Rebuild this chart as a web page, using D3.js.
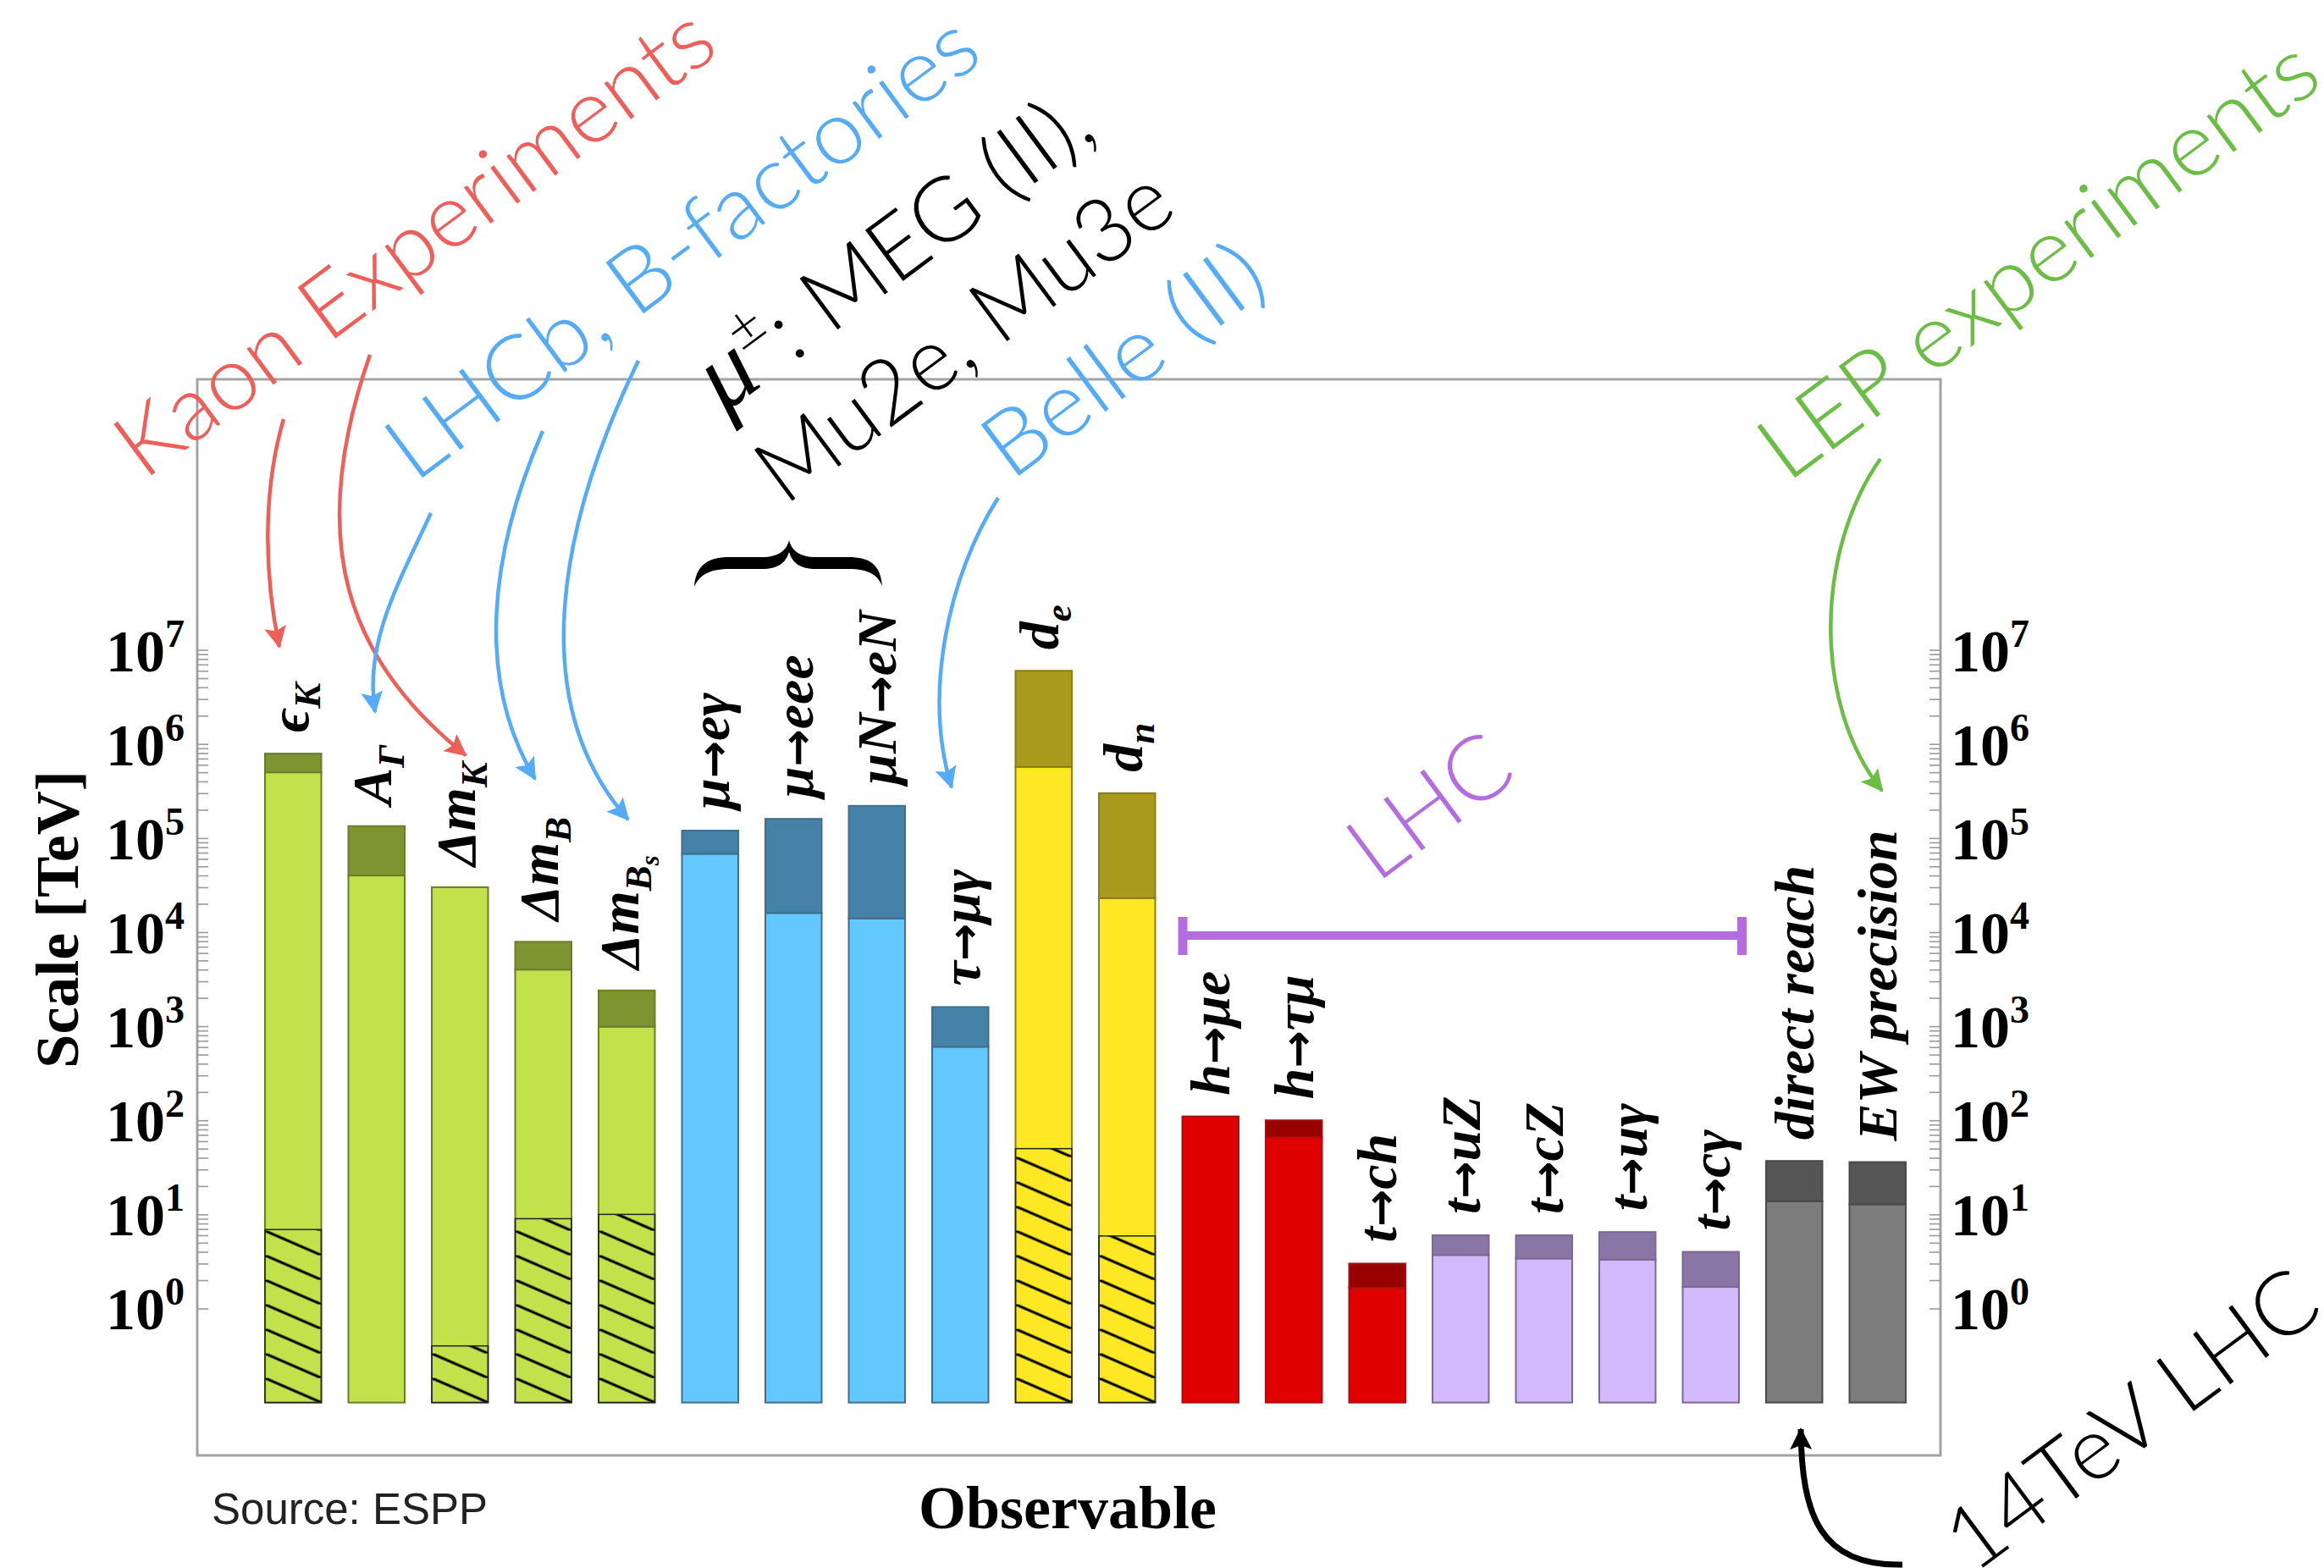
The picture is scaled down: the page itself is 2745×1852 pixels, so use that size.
<!DOCTYPE html>
<html>
<head>
<meta charset="utf-8">
<script src="https://cdn.jsdelivr.net/npm/d3@7"></script>
<style>
  body { margin: 0; background: #fff; }
  svg { display: block; }
</style>
</head>
<body>
<svg id="chart" width="2745" height="1852"></svg>
<script>
// observables ("_" starts a subscript)
var observables = ["ϵ_K", "A_Γ", "Δm_K", "Δm_B", "Δm_B_s", "μ→eγ", "μ→eee", "μN→eN", "τ→μγ",
  "d_e", "d_n", "h→μe", "h→τμ", "t→ch", "t→uZ", "t→cZ", "t→uγ", "t→cγ", "direct reach", "EW precision"];
var groups = ["flavour", "flavour", "flavour", "flavour", "flavour", "lepton", "lepton", "lepton", "lepton",
  "edm", "edm", "higgs", "higgs", "higgs", "top", "top", "top", "top", "ew", "ew"];
// present bound in TeV (light part)
var present = [5.0e5, 4.0e4, 3.0e4, 4.0e3, 990, 6.8e4, 1.6e4, 1.4e4, 605,
  5.7e5, 2.3e4, 110, 66, 1.66, 3.7, 3.4, 3.3, 1.7, 13.8, 12.8];
// future reach in TeV (dark cap), null = none
var future = [7.9e5, 1.34e5, null, 7.9e3, 2.4e3, 1.2e5, 1.6e5, 2.2e5, 1.6e3,
  6.0e6, 3.0e5, null, 100, 3.0, 6.0, 6.0, 6.5, 4.0, 37, 36];
// top of the hatched part, null = no hatch
var hatchTop = [6.9, null, 0.4, 9.0, 10, null, null, null, null,
  50, 5.9, null, null, null, null, null, null, null, null, null];
var exponents = [0, 1, 2, 3, 4, 5, 6, 7];

var colors = {
  flavour: { light: "#c2e14a", dark: "#7e9431", line: "#6b7d2b" },
  lepton:  { light: "#62c8fd", dark: "#4682a7", line: "#3f6f8e" },
  edm:     { light: "#fde823", dark: "#a89a1c", line: "#8a7e18" },
  higgs:   { light: "#e10000", dark: "#980000", line: "#a81010" },
  top:     { light: "#d1b9fb", dark: "#8a76a6", line: "#7a6a92" },
  ew:      { light: "#7c7c7c", dark: "#555555", line: "#4a4a4a" }
};

var serif = "'Liberation Serif', 'Times New Roman', 'DejaVu Serif', serif";
var sans = "Lato, 'Liberation Sans', 'Open Sans', sans-serif";

var svg = d3.select("#chart");
var defs = svg.append("defs");

var x = d3.scaleBand().domain(observables).range([297, 2267])
  .paddingInner(0.325).paddingOuter(0.1625);
var y = d3.scaleLog().domain([0.1, 1e7]).range([1656.6, 767.6]);
var bw = x.bandwidth();

// frame
svg.append("rect")
  .attr("x", 233).attr("y", 448).attr("width", 2292 - 233).attr("height", 1719 - 448)
  .attr("fill", "none").attr("stroke", "#a3a3a3").attr("stroke-width", 3);

// log ticks, pointing inward on both sides
var tickVals = [];
exponents.forEach(function (e) {
  d3.range(1, 10).forEach(function (k) {
    if (e < 7 || k === 1) tickVals.push(k * Math.pow(10, e));
  });
});
var leftAxis = svg.append("g").attr("transform", "translate(233,0)")
  .call(d3.axisRight(y).tickValues(tickVals).tickSize(13).tickFormat(""));
var rightAxis = svg.append("g").attr("transform", "translate(2292,0)")
  .call(d3.axisLeft(y).tickValues(tickVals).tickSize(13).tickFormat(""));
[leftAxis, rightAxis].forEach(function (a) {
  a.select(".domain").remove();
  a.selectAll(".tick line").attr("stroke", "#9a9a9a").attr("stroke-width", 1.6);
});

// tick labels 10^n
function tickLabels(xPos, anchor) {
  var t = svg.append("g").selectAll("text").data(exponents).join("text")
    .attr("x", xPos).attr("y", function (e) { return y(Math.pow(10, e)) + 25; })
    .attr("text-anchor", anchor)
    .attr("font-family", serif).attr("font-weight", "bold").attr("font-size", 70)
    .attr("fill", "#000");
  t.append("tspan").text("10");
  t.append("tspan").attr("dy", -29).attr("font-size", 46).text(function (e) { return e; });
}
tickLabels(218, "end");
tickLabels(2304, "start");

// axis titles
svg.append("text")
  .attr("transform", "translate(92,1086) rotate(-90)")
  .attr("text-anchor", "middle")
  .attr("font-family", serif).attr("font-weight", "bold").attr("font-size", 72)
  .text("Scale [TeV]");
svg.append("text")
  .attr("x", 1261).attr("y", 1805).attr("text-anchor", "middle")
  .attr("font-family", serif).attr("font-weight", "bold").attr("font-size", 72)
  .text("Observable");
svg.append("text")
  .attr("x", 250).attr("y", 1800)
  .attr("font-family", "'Liberation Sans', Arial, sans-serif").attr("font-size", 51)
  .attr("fill", "#222")
  .text("Source: ESPP");

// hatch patterns, one per hatched bar so lines start at the bar corner
observables.forEach(function (o, i) {
  if (hatchTop[i] === null) return;
  var p = defs.append("pattern").attr("id", "hatch" + i)
    .attr("patternUnits", "userSpaceOnUse")
    .attr("x", x(o)).attr("y", y(0.1))
    .attr("width", bw).attr("height", 29);
  p.append("path").attr("d", "M0,0L" + bw + ",29M" + (-bw) + ",-29L0,0M" + bw + ",29L" + (2 * bw) + ",58")
    .attr("stroke", "#000").attr("stroke-width", 3);
});

// bars
var bars = svg.append("g").selectAll("g").data(observables).join("g");
bars.each(function (o, i) {
  var g = d3.select(this);
  var c = colors[groups[i]];
  g.append("rect")
    .attr("x", x(o)).attr("width", bw)
    .attr("y", y(present[i])).attr("height", y(0.1) - y(present[i]))
    .attr("fill", c.light).attr("stroke", c.line).attr("stroke-width", 2);
  if (future[i] !== null) {
    g.append("rect")
      .attr("x", x(o)).attr("width", bw)
      .attr("y", y(future[i])).attr("height", y(present[i]) - y(future[i]))
      .attr("fill", c.dark).attr("stroke", c.line).attr("stroke-width", 2);
  }
  if (hatchTop[i] !== null) {
    g.append("rect")
      .attr("x", x(o)).attr("width", bw)
      .attr("y", y(hatchTop[i])).attr("height", y(0.1) - y(hatchTop[i]))
      .attr("fill", "url(#hatch" + i + ")").attr("stroke", "#222").attr("stroke-width", 1.5);
  }
});

// bar labels, rotated, centred on the bar
observables.forEach(function (o, i) {
  var top = y(future[i] !== null ? future[i] : present[i]);
  var g = svg.append("g")
    .attr("transform", "translate(" + (x(o) + bw / 2) + "," + (top - 25) + ") rotate(-90)");
  var t = g.append("text")
    .attr("font-family", serif).attr("font-weight", "bold").attr("font-style", "italic")
    .attr("font-size", 66);
  var size = 66;
  o.split("_").forEach(function (s, j) {
    var shift = 0;
    if (j > 0) { shift = size * 0.22; size = size * 0.68; }
    s.split("→").forEach(function (piece, k) {
      if (k > 0) {
        t.append("tspan").attr("font-family", "'DejaVu Sans', sans-serif")
          .attr("font-style", "normal").attr("font-size", size * 0.8).text("→");
      }
      if (!piece) return;
      var ts = t.append("tspan").attr("font-size", size).text(piece);
      if (shift) { ts.attr("dy", shift); shift = 0; }
    });
  });
  var b = t.node().getBBox();
  t.attr("y", -(b.y + b.height / 2));
});

// LHC bracket
var lhcL = x("h→μe") - 2, lhcR = x("t→cγ") + bw + 6;
var lhc = svg.append("g").attr("fill", "#b26ee0");
lhc.append("rect").attr("x", lhcL).attr("y", 1100).attr("width", lhcR - lhcL).attr("height", 10);
lhc.append("rect").attr("x", lhcL - 3).attr("y", 1083).attr("width", 11).attr("height", 45);
lhc.append("rect").attr("x", lhcR - 8).attr("y", 1083).attr("width", 11).attr("height", 45);

// curly brace over the muon observables
svg.append("path")
  .attr("d", "M820,693C822,668 835,658 862,658L900,658C920,658 929,650 932,638" +
    "C935,650 944,658 964,658L1002,658C1029,658 1040,668 1042,692" +
    "C1036,678 1025,672 1002,672L964,672C945,672 936,665 932,652" +
    "C928,665 919,672 900,672L862,672C839,672 827,678 820,693Z")
  .attr("fill", "#000");

// arrows
var arrowColors = { red: "#ee5f5a", blue: "#55abf5", green: "#6cbd45", black: "#000" };
Object.keys(arrowColors).forEach(function (k) {
  defs.append("marker").attr("id", "head-" + k)
    .attr("markerUnits", "userSpaceOnUse")
    .attr("viewBox", "0 0 26 26").attr("refX", 24).attr("refY", 13)
    .attr("markerWidth", 26).attr("markerHeight", 26).attr("orient", "auto")
    .append("path").attr("d", "M0,0L26,13L0,26L5,13Z").attr("fill", arrowColors[k]);
});
var arrows = [
  { c: "red", w: 4.5, d: "M335,495C310,580 312,680 330,764" },
  { c: "red", w: 4.5, d: "M437,419C360,640 410,780 550,892" },
  { c: "blue", w: 4.5, d: "M509,606C470,690 430,760 443,841" },
  { c: "blue", w: 4.5, d: "M641,509C580,650 560,800 632,920" },
  { c: "blue", w: 4.5, d: "M754,426C660,620 620,830 742,968" },
  { c: "blue", w: 4.5, d: "M1179,588C1120,680 1090,820 1124,930" },
  { c: "green", w: 4.5, d: "M2221,542C2145,650 2140,830 2223,934" },
  { c: "black", w: 7, d: "M2247,1848C2150,1850 2128,1790 2127,1688" }
];
svg.append("g").selectAll("path").data(arrows).join("path")
  .attr("d", function (a) { return a.d; })
  .attr("fill", "none")
  .attr("stroke", function (a) { return arrowColors[a.c]; })
  .attr("stroke-width", function (a) { return a.w; })
  .attr("marker-end", function (a) { return "url(#head-" + a.c + ")"; });

// rotated annotations
function note(str, px, py, size, color, len) {
  return svg.append("text")
    .attr("transform", "translate(" + px + "," + py + ") rotate(-36.6)")
    .attr("font-family", sans).attr("font-weight", 300).attr("font-size", size)
    .attr("fill", color).attr("textLength", len).attr("lengthAdjust", "spacingAndGlyphs")
    .text(str);
}
note("Kaon Experiments", 170, 568, 106, arrowColors.red, 850);
note("LHCb, B-factories", 490, 571, 106, arrowColors.blue, 840);
note("Belle (II)", 1194, 569, 106, arrowColors.blue, 385);
note("Mu2e, Mu3e", 927, 598, 106, "#000", 581);
note("LEP experiments", 2111, 571, 106, arrowColors.green, 792);
note("LHC", 1626, 1044, 106, "#b26ee0", 210);
note("14TeV LHC", 2331, 1860, 104, "#000", 518);

var mu = svg.append("text")
  .attr("transform", "translate(855,489) rotate(-36.6)")
  .attr("font-family", sans).attr("font-weight", 300).attr("font-size", 106).attr("fill", "#000");
mu.append("tspan").attr("font-family", serif).attr("font-style", "italic").attr("font-size", 120).text("μ");
mu.append("tspan").attr("font-size", 72).attr("dy", -44).text("±");
mu.append("tspan").attr("dy", 44).text(": MEG (II),");
</script>
</body>
</html>
